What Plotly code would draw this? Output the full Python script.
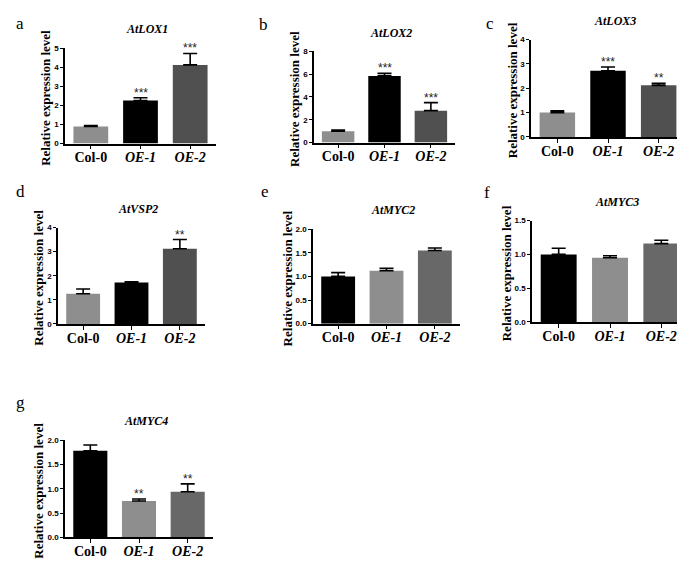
import plotly.graph_objects as go

W, H = 685, 565

categories = ["Col-0", "OE-1", "OE-2"]
tick_labels = ["<b>Col-0</b>", "<b><i>OE-1</i></b>", "<b><i>OE-2</i></b>"]

genes = ["AtLOX1", "AtLOX2", "AtLOX3", "AtVSP2", "AtMYC2", "AtMYC3", "AtMYC4"]
panel_letters = ["a", "b", "c", "d", "e", "f", "g"]

lox1_mean = [0.90, 2.25, 4.12]
lox1_err = [0.04, 0.15, 0.60]
lox2_mean = [1.00, 5.85, 2.80]
lox2_err = [0.10, 0.22, 0.70]
lox3_mean = [1.00, 2.72, 2.12]
lox3_err = [0.07, 0.15, 0.08]
vsp2_mean = [1.25, 1.72, 3.12]
vsp2_err = [0.20, 0.03, 0.38]
myc2_mean = [1.00, 1.12, 1.55]
myc2_err = [0.08, 0.05, 0.05]
myc3_mean = [1.00, 0.95, 1.16]
myc3_err = [0.09, 0.03, 0.05]
myc4_mean = [1.78, 0.75, 0.94]
myc4_err = [0.12, 0.04, 0.16]

lox1_sig = ["", "***", "***"]
lox2_sig = ["", "***", "***"]
lox3_sig = ["", "***", "**"]
vsp2_sig = ["", "", "**"]
myc2_sig = ["", "", ""]
myc3_sig = ["", "", ""]
myc4_sig = ["", "**", "**"]

y_max = [5, 8, 4, 4, 2.0, 1.5, 2.0]
y_dtick = [1, 2, 1, 1, 0.5, 0.5, 0.5]
y_fmt = ["d", "d", "d", "d", ".1f", ".1f", ".1f"]

means = [lox1_mean, lox2_mean, lox3_mean, vsp2_mean, myc2_mean, myc3_mean, myc4_mean]
errs = [lox1_err, lox2_err, lox3_err, vsp2_err, myc2_err, myc3_err, myc4_err]
sigs = [lox1_sig, lox2_sig, lox3_sig, vsp2_sig, myc2_sig, myc3_sig, myc4_sig]

LG, BK, DG1, DG2 = "#8e8e8e", "#000000", "#505050", "#686868"
panel_colors = [
    [LG, BK, DG1], [LG, BK, DG1], [LG, BK, DG1], [LG, BK, DG1],
    [BK, LG, DG2], [BK, LG, DG2], [BK, LG, DG2],
]

# plot boxes in pixels: (x0, x1, ytop, ybottom)
boxes = [
    (57, 208, 36.7, 133.7),
    (306, 447, 40, 132.7),
    (523, 677, 28, 127),
    (50, 197, 219, 317),
    (305, 452, 220.7, 316.7),
    (524, 680, 212, 315),
    (57, 205, 435, 534),
]
letter_pos = [(12, 12), (255, 13), (482, 12), (12, 182), (257, 182), (479, 183), (12, 397)]

serif = "Liberation Serif, Times New Roman, serif"
sans = "Liberation Sans, Arial, sans-serif"

fig = go.Figure()
annotations = []
layout = dict(
    width=W, height=H, margin=dict(l=0, r=0, t=0, b=0),
    paper_bgcolor="white", plot_bgcolor="white", showlegend=False,
)

for i in range(7):
    n = "" if i == 0 else str(i + 1)
    x0, x1, yt, yb = boxes[i]
    xd = [x0 / W, x1 / W]
    yd = [1 - yb / H, 1 - yt / H]
    fig.add_trace(go.Bar(
        x=[0, 1, 2], y=means[i], width=0.7,
        marker=dict(color=panel_colors[i], line=dict(width=0)),
        error_y=dict(type="data", symmetric=False, array=errs[i],
                     arrayminus=[0, 0, 0], color="black", thickness=1.6, width=7),
        xaxis="x" + n, yaxis="y" + n,
    ))
    layout["xaxis" + n] = dict(
        domain=xd, anchor="y" + n, range=[-0.52, 2.52],
        tickmode="array", tickvals=[0, 1, 2], ticktext=tick_labels,
        ticks="outside", ticklen=4, tickwidth=1.2, tickcolor="black",
        showline=True, linecolor="black", linewidth=1.5,
        showgrid=False, zeroline=False, ticklabelstandoff=-4,
        tickfont=dict(family=serif, size=14, color="black"),
    )
    layout["yaxis" + n] = dict(
        domain=yd, anchor="x" + n, range=[0, y_max[i]],
        dtick=y_dtick[i], tick0=0, tickformat=y_fmt[i],
        ticks="outside", ticklen=3, tickwidth=1.2, tickcolor="black",
        showline=True, linecolor="black", linewidth=1.5,
        showgrid=False, zeroline=False,
        tickfont=dict(family=sans, size=8, color="black", weight="bold"),
    )
    # gene title
    annotations.append(dict(
        text="<b><i>%s</i></b>" % genes[i], xref="paper", yref="paper",
        x=(x0 + x1) / 2 / W + 0.01, y=1 - (yt - 19) / H,
        showarrow=False, xanchor="center", yanchor="middle",
        font=dict(family=serif, size=12, color="black"),
    ))
    # y title
    off = 19 if y_fmt[i] == "d" else 26
    annotations.append(dict(
        text="<b>Relative expression level</b>", xref="paper", yref="paper",
        x=(x0 - off) / W, y=1 - ((yt + yb) / 2 + 2) / H, textangle=-90,
        showarrow=False, xanchor="center", yanchor="middle",
        font=dict(family=serif, size=13, color="black"),
    ))
    # panel letter
    lx, ly = letter_pos[i]
    annotations.append(dict(
        text=panel_letters[i], xref="paper", yref="paper",
        x=lx / W, y=1 - ly / H, showarrow=False,
        xanchor="center", yanchor="middle",
        font=dict(family=serif, size=17, color="black"),
    ))
    # significance stars
    for j in range(3):
        if sigs[i][j]:
            annotations.append(dict(
                text=sigs[i][j], xref="x" + n, yref="y" + n,
                x=j, y=means[i][j] + errs[i][j], showarrow=False,
                xanchor="center", yanchor="bottom", yshift=-4,
                font=dict(family=sans, size=12, color="#222222"),
            ))

layout["annotations"] = annotations
fig.update_layout(**layout)
fig.write_html("out.html")
